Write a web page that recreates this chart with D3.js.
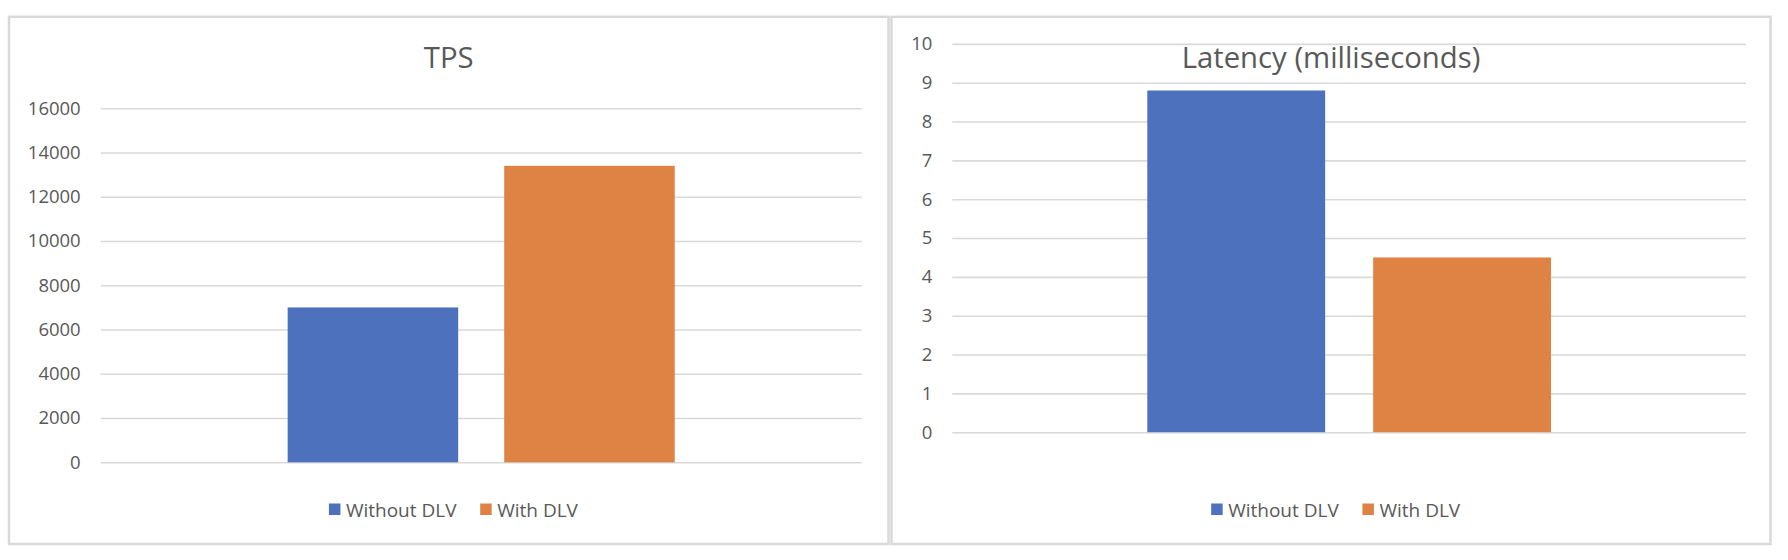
<!DOCTYPE html>
<html>
<head>
<meta charset="utf-8">
<script src="https://cdn.jsdelivr.net/npm/d3@7"></script>
<style>
  html, body { margin: 0; padding: 0; background: #ffffff; }
  svg { display: block; }
  text { font-family: "Open Sans", "Noto Sans", sans-serif; fill: #595959; }
</style>
</head>
<body>
<svg id="chart" width="1788" height="560"></svg>
<script>
// ---------- data ----------
const seriesNames = ["Without DLV", "With DLV"];
const seriesColors = ["#4E71BE", "#DE8344"];
const categories = [""];               // single unnamed category

const tpsTitle = "TPS";
const tpsValues = [7000, 13400];
const tpsTicks = [0, 2000, 4000, 6000, 8000, 10000, 12000, 14000, 16000];

const latencyTitle = "Latency (milliseconds)";
const latencyValues = [8.8, 4.5];
const latencyTicks = [0, 1, 2, 3, 4, 5, 6, 7, 8, 9, 10];

// ---------- layout ----------
const svg = d3.select("#chart");

const panels = [
  { title: tpsTitle, values: tpsValues, ticks: tpsTicks, max: 16000,
    box: { x0: 9, x1: 888.5, y0: 16.8, y1: 544 },
    plot: { left: 100.7, right: 861.7, top: 108.3, bottom: 462.3 } },
  { title: latencyTitle, values: latencyValues, ticks: latencyTicks, max: 10,
    box: { x0: 891.5, x1: 1770.5, y0: 16.8, y1: 544 },
    plot: { left: 952.3, right: 1746, top: 43.9, bottom: 432.2 } }
];

panels.forEach(p => {
  const g = svg.append("g");

  // panel frame
  g.append("rect")
    .attr("x", p.box.x0).attr("y", p.box.y0)
    .attr("width", p.box.x1 - p.box.x0).attr("height", p.box.y1 - p.box.y0)
    .attr("fill", "#ffffff").attr("stroke", "#d9d9d9").attr("stroke-width", 2.5);

  const y = d3.scaleLinear().domain([0, p.max]).range([p.plot.bottom, p.plot.top]);
  const x0 = d3.scaleBand().domain(categories)
    .range([p.plot.left, p.plot.right]).paddingInner(0).paddingOuter(0.483);
  const x1 = d3.scaleBand().domain(seriesNames)
    .range([0, x0.bandwidth()]).paddingInner(0.2125).paddingOuter(0);

  // gridlines + tick labels via axis
  const axis = d3.axisLeft(y).tickValues(p.ticks)
    .tickSize(-(p.plot.right - p.plot.left)).tickPadding(20)
    .tickFormat(d3.format("d"));
  const ag = g.append("g").attr("transform", `translate(${p.plot.left},0)`).call(axis);
  ag.select(".domain").remove();
  ag.selectAll(".tick line").attr("stroke", "#d9d9d9").attr("stroke-width", 1.6);
  ag.selectAll(".tick text")
    .attr("font-size", 18.5).attr("fill", "#595959")
    .style("font-family", "'Open Sans', sans-serif");

  // bars
  const data = seriesNames.map((s, i) => ({ cat: categories[0], series: s, value: p.values[i], color: seriesColors[i] }));
  g.append("g").selectAll("rect").data(data).join("rect")
    .attr("x", d => x0(d.cat) + x1(d.series))
    .attr("width", x1.bandwidth())
    .attr("y", d => y(d.value))
    .attr("height", d => y(0) - y(d.value))
    .attr("fill", d => d.color);

  // title
  const cx = (p.box.x0 + p.box.x1) / 2;
  g.append("text")
    .attr("x", cx).attr("y", 68)
    .attr("text-anchor", "middle")
    .attr("font-size", 29.3)
    .text(p.title);

  // legend
  const lg = g.append("g");
  const items = lg.selectAll("g").data(data).join("g");
  items.append("rect").attr("width", 11.5).attr("height", 11.5)
    .attr("y", 503.5).attr("fill", d => d.color);
  items.append("text").attr("x", 17).attr("y", 516.7)
    .attr("font-size", 19).text(d => d.series);
  let xoff = 0;
  items.each(function() {
    const node = d3.select(this);
    node.attr("transform", `translate(${xoff},0)`);
    xoff += this.getBBox().width + 23;
  });
  const totalW = xoff - 23;
  lg.attr("transform", `translate(${cx + 5 - totalW / 2},0)`);
});
</script>
</body>
</html>
